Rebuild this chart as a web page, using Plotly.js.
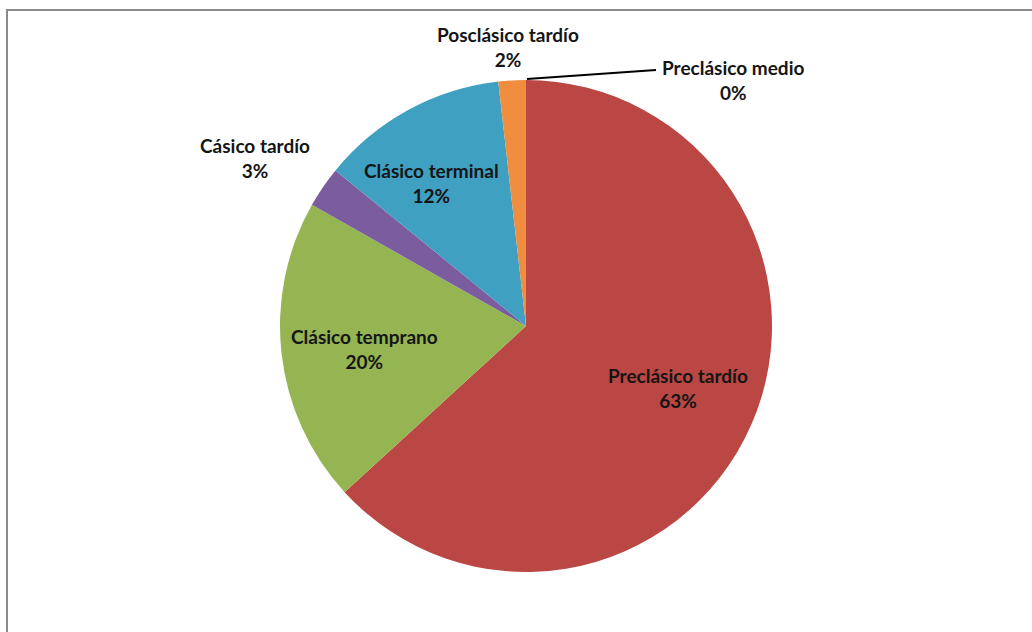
<!DOCTYPE html>
<html>
<head>
<meta charset="utf-8">
<script src="https://cdn.plot.ly/plotly-3.0.1.min.js"></script>
<style>html,body{margin:0;padding:0;background:#fff;}#chart{width:1032px;height:632px;}</style>
</head>
<body>
<div id="chart"></div>
<script>
// Data (percent shares)
const labels = ["Preclásico medio", "Preclásico tardío", "Clásico temprano", "Cásico tardío", "Clásico terminal", "Posclásico tardío"];
const values = [0, 63.2, 20.0, 2.7, 12.3, 1.8];
const colors = ["#4F81BD", "#BA4743", "#94B552", "#7A5C9F", "#3FA0C2", "#F08D3F"];

// label anchor positions in pixels (text placement only)
const labelPos = [[733, 80], [678, 388], [364, 349], [255, 158], [431, 183], [508, 47]];

const W = 1032, H = 632;
const total = values.reduce((a, b) => a + b, 0);
const pct = v => Math.round(v / total * 100) + "%";

const annotations = labels.map((l, i) => ({
  x: labelPos[i][0] / W, y: 1 - labelPos[i][1] / H,
  xref: "paper", yref: "paper", xanchor: "center", yanchor: "middle",
  showarrow: false, align: "center",
  text: "<b>" + l + "<br>" + pct(values[i]) + "</b>",
  font: {family: "Lato, 'Open Sans', sans-serif", size: 19, color: "#151515"}
}));

const trace = {
  type: "pie",
  labels: labels,
  values: values,
  sort: false,
  direction: "clockwise",
  rotation: 0,
  textinfo: "none",
  hoverinfo: "label+percent",
  marker: {colors: colors, line: {width: 0}},
  domain: {x: [280 / W, 772 / W], y: [1 - 572 / H, 1 - 80 / H]},
  showlegend: false
};

const layout = {
  width: W, height: H,
  margin: {l: 0, r: 0, t: 0, b: 0},
  paper_bgcolor: "#fff",
  showlegend: false,
  annotations: annotations,
  shapes: [
    {type: "path", xref: "paper", yref: "paper",
     path: "M " + (7 / W) + "," + 0 + " L " + (7 / W) + "," + (1 - 10 / H) + " L 1," + (1 - 10 / H),
     line: {color: "#8a8a8a", width: 2}},
    {type: "line", xref: "paper", yref: "paper",
     x0: 527 / W, y0: 1 - 79 / H, x1: 656 / W, y1: 1 - 70 / H,
     line: {color: "#000", width: 2}}
  ]
};

Plotly.newPlot("chart", [trace], layout, {displayModeBar: false, staticPlot: true});
</script>
</body>
</html>
